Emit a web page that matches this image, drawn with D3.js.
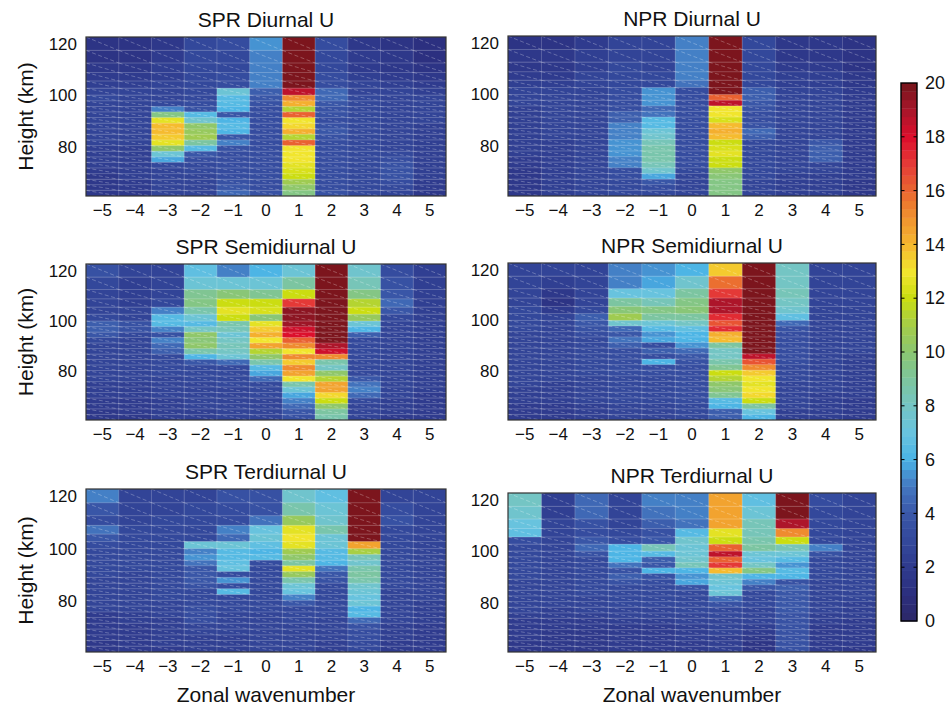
<!DOCTYPE html>
<html><head><meta charset="utf-8">
<script src="https://cdn.jsdelivr.net/npm/d3@7"></script>
<style>body{margin:0;background:#fff}svg{display:block}</style>
</head><body><svg id="c" width="952" height="706"></svg>
<script>
const wavenumbers = [-5,-4,-3,-2,-1,0,1,2,3,4,5];
// row edges in km, bottom to top
const heightEdges = [60.8,63.0,65.2,67.3,69.5,71.7,73.9,76.0,78.2,80.4,82.6,84.8,86.9,89.1,91.3,93.5,95.6,97.8,100.0,102.7,105.5,108.8,112.5,117.4,122.6];
const yTicks = [80,100,120];
const cbTicks = [0,2,4,6,8,10,12,14,16,18,20];
const colorStops = ["#2c2868","#2c2f7e","#2f3b8e","#33489b","#3a57a8","#4377c0","#4ab3e6","#68c3df","#74c5c3","#7dc59d","#8bc670","#a5cd48","#cadd10","#f2e52e","#f5b72f","#f0922f","#ea6530","#e43a37","#dc0e2c","#a8162a","#74151b"];
const titles = ["SPR Diurnal U","NPR Diurnal U","SPR Semidiurnal U","NPR Semidiurnal U","SPR Terdiurnal U","NPR Terdiurnal U"];

// amplitudes (m/s); rows listed top (highest) to bottom, columns k = -5..5
const sprDiurnal = [
[1.5,1.3,1.8,3.0,3.2,5.5,20,3.2,1.8,1.5,1.0],
[1.5,1.5,2.0,3.0,3.0,5.3,20,3.0,2.0,1.7,1.2],
[1.8,1.8,2.2,3.0,3.0,5.2,20,3.0,2.0,1.8,1.5],
[2.0,2.0,2.3,3.0,3.2,5.0,20,3.2,2.2,2.0,1.8],
[2.3,2.2,2.5,3.0,3.3,5.2,20,3.3,2.5,2.2,2.0],
[2.8,2.5,2.5,3.0,7.3,4.3,18.5,4.6,2.8,2.5,2.3],
[3.0,2.8,2.8,3.0,6.3,3.8,15.0,4.4,3.0,2.6,2.5],
[2.8,2.8,3.0,3.2,6.4,3.5,14.3,3.8,3.0,2.8,2.5],
[2.8,2.8,5.0,3.5,6.0,3.3,11.3,3.5,3.0,2.8,2.5],
[2.8,2.6,9.5,6.3,4.0,3.3,16.0,3.5,3.0,2.8,2.5],
[2.5,2.5,12.6,7.5,6.2,3.2,13.0,3.4,3.0,2.8,2.5],
[2.5,2.5,14.0,10.0,6.3,3.2,13.3,3.6,3.0,2.8,2.4],
[2.5,2.5,14.0,10.5,6.0,3.2,14.2,3.8,3.0,2.8,2.4],
[2.5,2.5,13.6,10.8,3.8,3.2,11.3,3.5,3.0,2.8,2.4],
[2.5,2.5,12.6,9.0,5.0,3.2,16.1,3.3,3.0,2.8,2.4],
[2.4,2.4,10.0,6.5,3.5,3.2,13.0,3.3,3.0,2.8,2.4],
[2.4,2.4,7.2,4.0,3.3,3.3,13.0,3.3,3.0,3.0,2.4],
[2.3,2.4,5.8,3.2,3.3,3.3,12.9,3.2,3.0,3.2,2.3],
[2.2,2.3,3.0,3.0,3.2,3.3,12.8,3.2,3.0,3.5,2.2],
[2.0,2.2,2.8,3.0,3.2,3.3,12.3,3.2,3.0,3.6,2.2],
[1.8,2.2,2.8,2.8,3.3,3.3,12.1,3.2,3.0,3.6,2.2],
[1.8,2.0,2.8,2.8,3.6,3.4,10.8,3.3,3.0,3.4,2.0],
[1.7,2.0,2.8,2.8,3.8,3.4,10.2,3.4,3.0,3.0,2.0],
[1.6,1.8,2.6,2.8,4.5,3.5,9.5,3.5,3.0,2.8,1.8]];

const nprDiurnal = [
[1.5,1.5,2.0,2.8,2.8,5.2,20,3.0,1.8,1.8,1.3],
[1.6,1.6,2.2,2.8,2.8,5.2,20,3.0,1.8,1.8,1.4],
[1.8,1.8,2.3,3.0,2.8,5.0,20,3.0,2.0,2.0,1.5],
[2.0,2.0,2.5,3.0,3.0,5.0,20,3.0,2.2,2.2,1.7],
[2.2,2.2,2.6,3.0,3.0,4.8,20,3.0,2.4,2.3,1.8],
[2.5,2.5,2.8,3.2,5.6,3.4,20,4.2,2.6,2.5,2.0],
[2.5,2.5,2.8,3.2,5.6,3.3,16.0,4.2,2.6,2.5,2.0],
[2.5,2.5,2.8,3.2,5.6,3.3,18.5,4.0,2.6,2.5,2.0],
[2.4,2.5,2.8,3.3,4.6,3.3,13.0,3.5,2.6,2.5,2.0],
[2.4,2.5,2.8,4.3,4.8,3.3,13.0,3.3,2.6,2.5,2.0],
[2.3,2.5,2.8,4.3,6.3,3.3,12.3,3.2,2.6,2.5,2.0],
[2.3,2.5,2.8,5.0,6.4,3.3,13.8,3.5,2.6,2.5,2.0],
[2.3,2.5,2.8,5.0,7.2,3.3,14.2,4.5,2.6,2.5,2.0],
[2.3,2.5,2.8,5.0,7.6,3.3,13.8,4.3,2.6,2.5,2.0],
[2.2,2.4,2.8,5.4,8.3,3.3,12.0,3.0,2.6,4.0,2.0],
[2.2,2.4,2.8,5.4,8.5,3.3,12.3,3.0,2.6,4.3,2.0],
[2.2,2.4,2.8,5.4,8.6,3.2,12.5,3.0,2.5,4.3,2.0],
[2.0,2.4,2.7,5.3,8.6,3.2,12.1,3.0,2.5,4.2,2.0],
[2.0,2.3,2.7,5.2,8.4,3.2,12.0,3.0,2.5,2.6,2.0],
[1.8,2.3,2.7,3.3,7.8,3.0,10.3,3.0,2.5,2.5,1.9],
[1.8,2.2,2.6,3.2,5.8,2.8,9.8,3.0,2.4,2.4,1.9],
[1.8,2.2,2.6,3.0,4.0,2.8,9.6,2.8,2.4,2.3,1.8],
[1.8,2.2,2.5,3.0,3.2,2.8,9.5,2.8,2.4,2.2,1.8],
[1.8,2.2,2.5,3.0,3.0,2.8,9.4,2.8,2.3,2.2,1.8]];

const sprSemidiurnal = [
[3.5,2.5,2.8,6.6,5.2,6.0,7.2,20,7.6,3.2,2.3],
[3.0,2.3,2.8,7.2,7.2,7.2,8.8,20,8.3,3.5,2.3],
[2.8,2.3,2.8,9.2,9.7,9.3,12.0,20,9.6,4.0,2.3],
[2.8,2.4,3.0,9.6,12.0,12.0,17.0,20,11.4,4.5,2.4],
[2.8,2.5,5.0,8.6,12.5,12.2,19.6,20,12.0,4.0,2.4],
[3.0,2.6,6.3,7.2,12.1,9.7,19.5,20,10.4,2.9,2.4],
[4.2,3.5,6.3,6.4,8.6,12.8,19.3,20,7.2,2.8,2.4],
[4.2,3.5,5.0,7.9,8.3,13.6,18.2,20,6.1,2.8,2.4],
[4.0,3.0,3.5,10.0,7.3,14.2,18.0,20,4.3,2.8,2.4],
[3.0,2.6,5.2,9.7,8.0,13.0,16.2,20,3.0,2.8,2.4],
[2.8,2.6,4.5,10.2,8.2,14.6,15.0,19.0,3.0,2.8,2.4],
[2.6,2.6,4.2,8.6,7.9,11.5,13.0,18.2,3.0,2.8,2.4],
[2.6,2.6,3.0,6.1,7.2,10.0,15.0,15.0,3.0,2.8,2.4],
[2.6,2.6,3.0,4.0,4.5,8.6,13.5,8.7,3.0,2.8,2.3],
[2.6,2.6,3.0,3.0,3.0,6.3,15.0,8.0,3.0,2.8,2.3],
[2.5,2.5,2.9,3.0,3.0,5.8,14.6,10.0,3.0,2.8,2.3],
[2.5,2.5,2.8,2.9,3.0,4.5,13.0,11.4,3.8,2.7,2.2],
[2.4,2.4,2.7,2.8,2.9,3.0,8.6,14.6,4.8,2.7,2.2],
[2.3,2.3,2.6,2.8,2.8,3.0,7.2,14.4,5.0,2.6,2.2],
[2.2,2.2,2.5,2.7,2.8,2.9,5.8,13.3,4.5,2.5,2.1],
[2.0,2.1,2.4,2.6,2.7,2.8,5.2,12.0,3.0,2.4,2.0],
[1.9,2.0,2.3,2.5,2.6,2.7,4.6,10.0,2.8,2.3,2.0],
[1.8,1.9,2.2,2.4,2.5,2.6,3.8,9.0,2.8,2.2,1.9],
[1.8,1.8,2.2,2.4,2.5,2.6,3.6,8.6,2.8,2.1,1.9]];

const nprSemidiurnal = [
[2.8,2.6,2.8,5.0,5.4,6.2,13.6,20,7.9,2.8,2.6],
[2.6,2.3,2.8,5.1,5.9,7.6,15.7,20,8.0,2.7,2.5],
[2.5,1.8,2.6,7.1,7.0,9.0,17.1,20,8.2,2.6,2.5],
[2.8,1.5,2.6,9.0,8.4,9.5,18.8,20,8.0,2.6,2.5],
[3.0,2.0,3.0,9.9,9.6,9.8,18.8,20,7.7,2.6,2.5],
[3.0,2.5,4.2,10.7,9.0,8.8,17.3,20,6.6,2.7,2.5],
[2.9,2.5,4.0,7.7,7.2,8.0,16.5,20,4.5,2.7,2.5],
[2.9,2.5,3.5,4.5,6.4,6.6,17.2,20,3.6,2.7,2.5],
[2.8,2.5,3.2,3.8,5.4,6.1,14.2,20,3.3,2.7,2.5],
[2.8,2.5,3.0,4.8,5.9,6.2,13.8,20,3.3,2.7,2.5],
[2.8,2.5,3.0,4.2,3.2,5.6,8.8,20,3.3,2.7,2.5],
[2.8,2.5,3.0,3.3,4.3,4.5,7.9,20,3.3,2.7,2.5],
[2.8,2.5,3.0,3.3,3.2,3.8,8.0,18.5,3.3,2.7,2.4],
[2.7,2.5,2.9,3.3,6.1,3.6,8.7,16.3,3.2,2.7,2.4],
[2.7,2.5,2.9,3.2,3.2,3.4,9.1,15.0,3.1,2.7,2.4],
[2.7,2.5,2.9,3.2,3.2,3.4,12.1,13.7,3.0,2.6,2.3],
[2.6,2.5,2.8,3.1,3.1,3.4,11.4,13.0,2.9,2.6,2.3],
[2.5,2.4,2.8,3.0,3.0,3.3,10.0,12.8,2.8,2.5,2.3],
[2.4,2.4,2.7,3.0,3.0,3.3,9.9,13.0,2.8,2.5,2.2],
[2.3,2.3,2.6,2.9,2.9,3.2,9.2,13.4,2.7,2.4,2.2],
[2.2,2.2,2.5,2.9,2.9,3.2,6.3,12.0,2.6,2.4,2.1],
[2.1,2.1,2.4,2.8,2.8,3.1,6.2,9.0,2.5,2.3,2.0],
[2.0,2.0,2.4,2.8,2.8,3.0,4.3,7.1,2.4,2.2,2.0],
[2.0,2.0,2.3,2.8,2.8,3.0,4.3,6.1,2.3,2.2,2.0]];

const sprTerdiurnal = [
[5.2,2.8,2.8,2.8,3.5,3.5,7.6,6.6,20,2.8,2.5],
[3.8,2.8,2.8,3.0,3.3,3.5,8.5,7.2,20,3.3,2.5],
[3.3,2.8,2.9,3.0,3.3,4.8,10.4,7.6,20,3.5,2.6],
[4.8,2.9,3.0,3.0,5.0,7.0,12.8,8.7,20,3.0,2.6],
[3.8,2.9,3.0,3.0,4.5,7.2,13.0,7.2,20,3.0,2.6],
[3.2,2.9,3.0,7.2,7.2,6.6,12.8,7.3,14.6,3.0,2.6],
[2.9,2.9,3.0,5.2,6.4,6.1,10.7,6.3,11.0,3.0,2.6],
[2.9,2.9,3.0,5.5,6.3,6.3,10.3,6.3,8.3,3.0,2.6],
[2.9,2.9,3.0,4.8,6.6,3.3,9.0,6.0,7.7,3.0,2.6],
[2.9,2.9,3.0,3.8,7.0,3.0,12.5,4.8,8.5,2.9,2.6],
[2.9,2.8,3.0,3.8,3.3,3.0,10.6,4.0,9.0,2.9,2.6],
[2.8,2.8,3.0,4.0,5.4,3.0,8.6,3.5,8.5,2.9,2.6],
[2.8,2.8,3.0,3.5,3.3,3.0,7.3,3.0,7.7,2.9,2.5],
[2.8,2.8,2.9,3.0,6.5,3.0,7.0,3.1,7.2,2.8,2.5],
[2.8,2.7,2.9,3.0,3.0,3.0,5.0,3.0,7.0,2.8,2.5],
[2.7,2.7,2.8,3.0,3.0,2.9,3.8,3.0,7.3,2.8,2.4],
[2.6,2.6,2.7,3.3,2.9,2.9,3.0,2.9,6.1,2.7,2.4],
[2.1,2.4,2.5,3.4,2.8,2.8,3.0,2.9,6.3,2.6,2.3],
[2.0,2.2,2.4,3.3,2.7,2.8,2.9,2.8,4.4,2.5,2.2],
[2.0,2.1,2.3,2.6,2.6,2.7,2.8,2.7,3.5,2.4,2.1],
[1.9,2.0,2.3,2.5,2.5,2.6,2.7,2.6,3.4,2.3,2.0],
[1.9,2.0,2.2,2.4,2.4,2.6,2.6,2.5,3.3,2.2,2.0],
[1.8,1.9,2.2,2.3,2.4,2.5,2.6,2.4,3.1,2.1,1.9],
[1.8,1.9,2.1,2.3,2.3,2.5,2.5,2.3,3.0,2.0,1.9]];

const nprTerdiurnal = [
[7.9,2.2,4.5,2.8,5.1,5.2,14.5,6.6,20,3.2,2.6],
[7.6,2.3,4.4,2.6,4.9,5.1,14.5,7.2,20,3.0,2.6],
[7.1,2.5,3.5,2.8,4.2,4.8,14.5,8.2,18.8,2.9,2.6],
[6.6,2.5,3.3,3.0,3.5,6.5,12.7,8.2,15.0,2.9,2.6],
[3.3,2.8,3.8,3.3,3.8,7.6,12.0,8.7,12.0,2.9,2.6],
[3.0,2.8,4.4,6.2,8.4,7.4,16.0,9.0,8.3,5.3,2.7],
[2.9,2.8,3.5,6.1,6.3,7.2,18.5,7.2,7.2,3.5,2.7],
[2.9,2.8,3.1,6.2,4.3,7.8,16.1,7.0,6.3,2.9,2.7],
[2.9,2.8,3.0,4.8,4.0,8.4,17.0,7.9,5.4,2.9,2.7],
[2.9,2.8,3.0,3.5,6.2,6.1,14.0,9.6,6.3,2.9,2.7],
[2.9,2.8,3.0,4.3,3.5,5.4,7.6,6.1,6.2,2.9,2.6],
[2.8,2.8,3.0,3.5,3.3,5.9,7.2,5.2,3.6,2.8,2.6],
[2.8,2.7,3.0,3.0,3.0,3.5,7.1,3.8,4.3,2.8,2.6],
[2.8,2.7,2.9,3.0,3.0,3.0,7.3,3.0,4.0,2.8,2.5],
[2.7,2.6,2.8,3.0,3.0,3.0,4.5,3.0,4.0,2.7,2.5],
[2.6,2.5,2.7,2.9,2.9,3.0,3.5,2.9,3.8,2.6,2.4],
[2.5,2.4,2.6,2.8,2.8,2.9,3.0,2.8,3.8,2.5,2.3],
[2.3,2.2,2.4,2.6,2.6,2.7,3.0,2.7,3.6,2.4,2.2],
[2.1,2.0,2.1,2.3,2.3,2.5,2.7,2.5,3.5,2.2,2.1],
[2.0,1.9,1.9,2.1,2.1,2.3,2.5,2.3,3.5,2.1,2.0],
[1.9,1.8,1.8,2.0,2.0,2.2,2.5,2.1,3.5,2.0,2.0],
[1.9,1.8,1.8,2.0,2.0,2.2,2.4,1.8,3.5,2.0,1.9],
[1.8,1.7,1.7,1.9,1.9,2.1,2.3,1.5,3.5,1.9,1.9],
[1.8,1.7,1.7,1.9,1.9,2.0,2.3,1.3,3.5,1.9,1.8]];

const panelData = [sprDiurnal,nprDiurnal,sprSemidiurnal,nprSemidiurnal,sprTerdiurnal,nprTerdiurnal];

const layout = [
  {x0:86,x1:446,y0:37,y1:196},{x0:508,x1:876,y0:36,y1:196},
  {x0:86,x1:446,y0:264,y1:420},{x0:508,x1:876,y0:263,y1:420},
  {x0:86,x1:446,y0:489,y1:652},{x0:508,x1:876,y0:493,y1:652}];

const FONT = "'Liberation Sans', Arial, Helvetica, sans-serif";
const NLEV = 64;
const cInterp = d3.scaleLinear().domain(d3.range(colorStops.length).map(i=>i*20/(colorStops.length-1))).range(colorStops).interpolate(d3.interpolateRgb).clamp(true);
const color = v => { let i = Math.floor(Math.max(0,Math.min(20,v))/20*NLEV); if(i>=NLEV) i=NLEV-1; return cInterp((i+0.5)*20/NLEV); };
const minus = d => d<0 ? "\u2212"+Math.abs(d) : String(d);

const svg = d3.select("#c").attr("font-family",FONT);
const nRows = heightEdges.length-1;

panelData.forEach((data,p)=>{
  const L = layout[p];
  const g = svg.append("g");
  const x = d3.scaleBand().domain(wavenumbers).range([L.x0,L.x1]);
  const y = d3.scaleLinear().domain([heightEdges[0],heightEdges[nRows]]).range([L.y1,L.y0]);
  const cells = [];
  data.forEach((row,i)=>{ const r = nRows-1-i; row.forEach((v,j)=>cells.push({k:wavenumbers[j],h0:heightEdges[r],h1:heightEdges[r+1],v})); });
  const cid = "clip"+p;
  svg.append("clipPath").attr("id",cid).append("rect").attr("x",L.x0).attr("y",L.y0).attr("width",L.x1-L.x0).attr("height",L.y1-L.y0);
  const cg = g.append("g").attr("clip-path",`url(#${cid})`);
  cg.selectAll("rect.cell").data(cells).join("rect").attr("class","cell")
    .attr("x",d=>x(d.k)).attr("width",x.bandwidth()+0.5)
    .attr("y",d=>y(d.h1)).attr("height",d=>y(d.h0)-y(d.h1)+0.5)
    .attr("fill",d=>color(d.v));
  // mesh lines
  cg.selectAll("line.h").data(heightEdges.slice(1,-1)).join("line").attr("class","h")
    .attr("x1",L.x0).attr("x2",L.x1).attr("y1",d=>y(d)).attr("y2",d=>y(d))
    .attr("stroke","#fff").attr("stroke-opacity",0.28).attr("stroke-width",0.8);
  cg.selectAll("line.v").data(wavenumbers.slice(1)).join("line").attr("class","v")
    .attr("x1",d=>x(d)).attr("x2",d=>x(d)).attr("y1",L.y0).attr("y2",L.y1)
    .attr("stroke","#fff").attr("stroke-opacity",0.25).attr("stroke-width",0.8);
  cg.selectAll("line.d").data(cells).join("line").attr("class","d")
    .attr("x1",d=>x(d.k)).attr("y1",d=>y(d.h1)).attr("x2",d=>x(d.k)+x.bandwidth()).attr("y2",d=>y(d.h0))
    .attr("stroke","#fff").attr("stroke-opacity",0.38).attr("stroke-width",0.7).attr("stroke-dasharray","4,2.5");
  g.append("rect").attr("x",L.x0).attr("y",L.y0).attr("width",L.x1-L.x0).attr("height",L.y1-L.y0)
    .attr("fill","none").attr("stroke","#333").attr("stroke-width",1.2);
  // axes
  const ax = g.append("g").attr("transform",`translate(0,${L.y1})`)
    .call(d3.axisBottom(x).tickSize(0).tickPadding(8).tickFormat(minus));
  ax.select(".domain").remove();
  ax.selectAll("text").attr("font-size",17).attr("font-family",FONT).attr("fill","#111");
  const ay = g.append("g").attr("transform",`translate(${L.x0},0)`)
    .call(d3.axisLeft(y).tickValues(yTicks).tickSize(0).tickPadding(9));
  ay.select(".domain").remove();
  ay.selectAll("text").attr("font-size",17).attr("font-family",FONT).attr("fill","#111");
  // title
  g.append("text").attr("x",(L.x0+L.x1)/2).attr("y",L.y0-10).attr("text-anchor","middle")
    .attr("font-size",21).attr("fill","#111").text(titles[p]);
  if(p%2===0){
    g.append("text").attr("transform",`translate(25,${(L.y0+L.y1)/2}) rotate(-90)`)
      .attr("text-anchor","middle").attr("dominant-baseline","central")
      .attr("font-size",21).attr("fill","#111").text("Height (km)");
  }
  if(p>=4){
    g.append("text").attr("x",(L.x0+L.x1)/2).attr("y",702).attr("text-anchor","middle")
      .attr("font-size",21).attr("fill","#111").text("Zonal wavenumber");
  }
});

// colorbar
const cbX0 = 901, cbX1 = 917;
const cb = d3.scaleLinear().domain([0,20]).range([621,83]);
const levels = d3.range(NLEV).map(i=>({a:i*20/NLEV,b:(i+1)*20/NLEV}));
const cbg = svg.append("g");
cbg.selectAll("rect.lv").data(levels).join("rect").attr("class","lv")
  .attr("x",cbX0).attr("width",cbX1-cbX0).attr("y",d=>cb(d.b)).attr("height",d=>cb(d.a)-cb(d.b)+0.4)
  .attr("fill",d=>color((d.a+d.b)/2));
cbg.selectAll("line.tl").data(cbTicks.slice(1,-1)).join("line").attr("class","tl")
  .attr("x1",cbX0).attr("x2",cbX0+3.5).attr("y1",d=>cb(d)).attr("y2",d=>cb(d)).attr("stroke","#000").attr("stroke-width",1);
cbg.selectAll("line.tr").data(cbTicks.slice(1,-1)).join("line").attr("class","tr")
  .attr("x1",cbX1-3.5).attr("x2",cbX1).attr("y1",d=>cb(d)).attr("y2",d=>cb(d)).attr("stroke","#000").attr("stroke-width",1);
cbg.append("rect").attr("x",cbX0).attr("y",83).attr("width",cbX1-cbX0).attr("height",621-83)
  .attr("fill","none").attr("stroke","#000").attr("stroke-width",1.4);
const cax = cbg.append("g").attr("transform",`translate(${cbX1},0)`)
  .call(d3.axisRight(cb).tickValues(cbTicks).tickSize(0).tickPadding(8));
cax.select(".domain").remove();
cax.selectAll("text").attr("font-size",18).attr("font-family",FONT).attr("fill","#111");
</script></body></html>
